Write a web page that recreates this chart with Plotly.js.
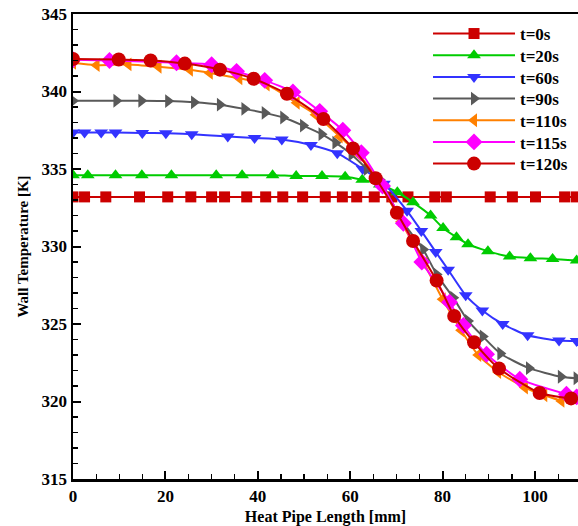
<!DOCTYPE html>
<html>
<head>
<meta charset="utf-8">
<script src="https://cdn.plot.ly/plotly-3.0.1.min.js"></script>
<style>html,body{margin:0;padding:0;background:#fff;}#chart{width:578px;height:526px;}</style>
</head>
<body>
<div id="chart"></div>
<script>
// ---- data ----
const seriesNames = ["t=0s", "t=20s", "t=60s", "t=90s", "t=110s", "t=115s", "t=120s"];

const x_t0 = [0, 2.5, 7.1, 14.4, 20.5, 25.5, 30, 32.8, 37.6, 41.7, 45.4, 49.7, 54.6, 58.3, 61.4, 65.2, 69, 72.5, 78.3, 80.8, 90.3, 95.1, 100.1, 106.4, 108.9];
const y_t0 = [333.2, 333.2, 333.2, 333.2, 333.2, 333.2, 333.2, 333.2, 333.2, 333.2, 333.2, 333.2, 333.2, 333.2, 333.2, 333.2, 333.2, 333.2, 333.2, 333.2, 333.2, 333.2, 333.2, 333.2, 333.2];

const x_t20 = [0, 3.2, 9.2, 14.9, 21.3, 31, 36.6, 43.2, 48.3, 53.9, 58.9, 62.6, 66.4, 70.2, 73.6, 77.4, 80.1, 83.0, 85.5, 89.8, 94.5, 99.0, 103.8, 109.0];
const y_t20 = [334.6, 334.6, 334.6, 334.6, 334.6, 334.6, 334.6, 334.6, 334.55, 334.55, 334.5, 334.3, 334.0, 333.5, 332.85, 332.0, 331.2, 330.6, 330.15, 329.7, 329.35, 329.25, 329.2, 329.1];

const x_t60 = [0, 2.5, 6.1, 9.2, 15, 20.1, 25.7, 33.5, 39.3, 45.2, 51.5, 57.2, 62.7, 67.3, 72.3, 75.4, 78.5, 81.2, 85.0, 88.6, 93.0, 98.4, 105.2, 109];
const y_t60 = [337.35, 337.35, 337.35, 337.35, 337.33, 337.3, 337.25, 337.1, 337.0, 336.9, 336.55, 336.02, 335.0, 334.05, 332.3, 331.0, 329.65, 328.5, 326.85, 325.87, 325.0, 324.27, 323.93, 323.9];

const x_t90 = [0, 9.4, 14.8, 20.6, 26.2, 31.8, 37.1, 41.5, 45.5, 49.8, 53.8, 56.8, 60.3, 63.6, 66.4, 71.1, 75.8, 78.7, 82.3, 85.5, 88.7, 92.5, 98.7, 105.6, 109];
const y_t90 = [339.4, 339.4, 339.4, 339.38, 339.3, 339.15, 338.88, 338.62, 338.32, 337.8, 337.25, 336.7, 335.94, 335.0, 334.3, 331.7, 329.8, 328.2, 326.7, 325.2, 324.2, 323.1, 322.15, 321.6, 321.5];

const x_t110 = [0, 5.1, 12, 18.5, 25.3, 29.6, 36, 41.9, 48.4, 52.5, 57.7, 62.0, 66.5, 71, 76, 80, 84, 87.7, 92, 97.8, 102, 105.7];
const y_t110 = [341.85, 341.7, 341.75, 341.6, 341.4, 341.2, 340.85, 340.44, 339.27, 338.5, 337.1, 335.9, 334.0, 331.6, 328.9, 326.6, 324.6, 323.0, 321.9, 320.9, 320.4, 320.04];

const x_t115 = [0, 7.9, 22.4, 30, 35.4, 41.5, 47.6, 53.4, 58.4, 62.4, 67, 71.5, 75.5, 81.5, 84.5, 89.5, 96.7, 106.8, 109];
const y_t115 = [342.05, 342.0, 341.85, 341.73, 341.3, 340.72, 339.97, 338.72, 337.5, 336.05, 333.9, 331.5, 329.0, 326.4, 324.9, 323.05, 321.44, 320.47, 320.3];

const x_t120 = [0, 9.9, 16.8, 24.2, 31.8, 39.1, 46.3, 54.2, 60.6, 65.5, 70.1, 73.6, 78.7, 82.5, 86.8, 92.2, 101, 107.8];
const y_t120 = [342.1, 342.06, 342.0, 341.8, 341.41, 340.82, 339.85, 338.23, 336.33, 334.4, 332.18, 330.35, 327.8, 325.52, 323.82, 322.13, 320.55, 320.2];

const xTitle = "Heat Pipe Length [mm]";
const yTitle = "Wall Temperature [K]";

// ---- styles ----
const FONT = "Liberation Serif, Times New Roman, serif";
const xs = [x_t0, x_t20, x_t60, x_t90, x_t110, x_t115, x_t120];
const ys = [y_t0, y_t20, y_t60, y_t90, y_t110, y_t115, y_t120];
const colors = ["#cc0000", "#00cc00", "#3333ff", "#595959", "#ff8000", "#ff00ff", "#cc0000"];
const symbols = ["square", "triangle-up", "triangle-down", "triangle-right", "triangle-left", "diamond", "circle"];
const sizes = [11, 12, 12, 12, 12, 13, 14];

const legendIds = seriesNames.map((n, i) => i === 0 ? "legend" : "legend" + (i + 1));

const traces = seriesNames.map((n, i) => ({
  type: "scatter", mode: "lines+markers", name: n, legend: legendIds[i],
  x: xs[i], y: ys[i],
  line: {color: colors[i], width: 2, shape: "spline", smoothing: 0.6},
  marker: {color: colors[i], symbol: symbols[i], size: sizes[i], line: {width: 0}}
}));

// plot area in pixels (for placing the legend rows)
const plotTop = 14, plotBottom = 479.5;
const layout = {
  width: 578, height: 526,
  margin: {l: 73, r: 0, t: plotTop, b: 526 - plotBottom, pad: 0},
  paper_bgcolor: "#fff", plot_bgcolor: "#fff",
  font: {family: FONT, color: "#000"},
  showlegend: true,
  xaxis: {
    range: [0, 109.3], dtick: 20, tick0: 0, showgrid: false, zeroline: false,
    showline: true, linecolor: "#000", linewidth: 2.5, mirror: true,
    ticks: "inside", ticklen: 8, tickwidth: 2, tickcolor: "#000",
    minor: {dtick: 5, ticks: "inside", ticklen: 5, tickwidth: 1.2, tickcolor: "#000"},
    tickfont: {family: FONT, size: 17, weight: "bold"},
    title: {text: xTitle, font: {family: FONT, size: 16, weight: "bold"}, standoff: 6}
  },
  yaxis: {
    range: [315, 345], dtick: 5, tick0: 315, showgrid: false, zeroline: false,
    showline: true, linecolor: "#000", linewidth: 2.5, mirror: false,
    ticks: "inside", ticklen: 8, tickwidth: 2, tickcolor: "#000",
    minor: {dtick: 1, ticks: "inside", ticklen: 5, tickwidth: 1.2, tickcolor: "#000"},
    tickfont: {family: FONT, size: 17, weight: "bold"},
    title: {text: yTitle, font: {family: FONT, size: 15, weight: "bold"}, standoff: 10}
  }
};

// one legend per row so the row spacing matches the reference
const rowStart = 34, rowStep = 21.7;
legendIds.forEach((id, i) => {
  const py = rowStart + i * rowStep;
  layout[id] = {
    x: 0.703, xanchor: "left",
    y: (plotBottom - py) / (plotBottom - plotTop), yanchor: "middle",
    bgcolor: "rgba(0,0,0,0)", borderwidth: 0,
    font: {family: FONT, size: 17, color: "#000", weight: "bold"},
    itemwidth: 82
  };
});

Plotly.newPlot("chart", traces, layout, {displayModeBar: false, staticPlot: true});
</script>
</body>
</html>
